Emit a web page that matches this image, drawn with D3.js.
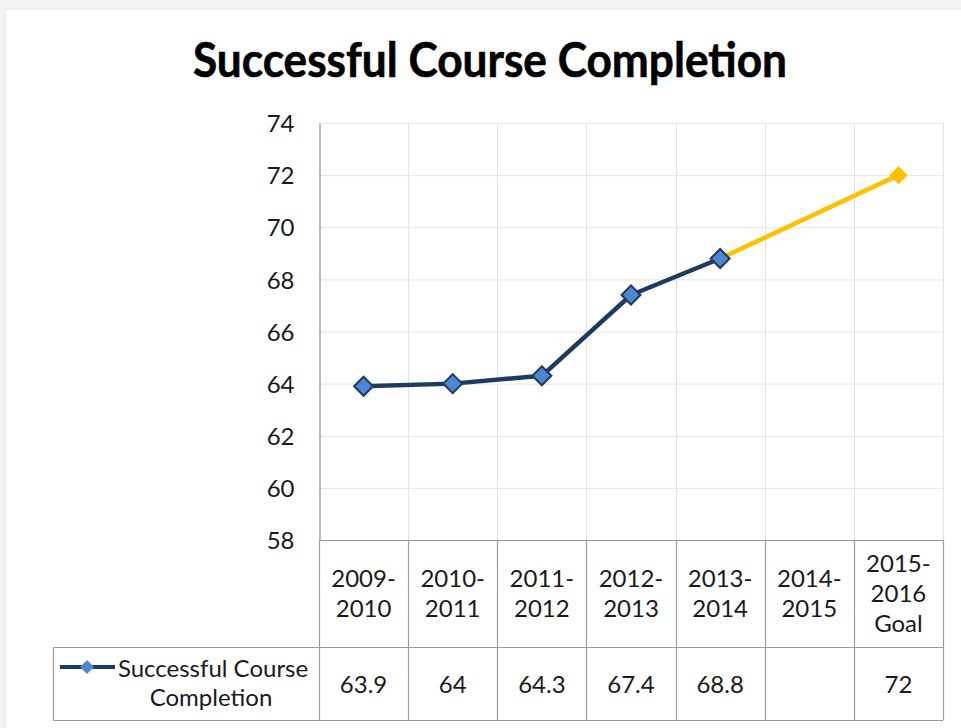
<!DOCTYPE html>
<html>
<head>
<meta charset="utf-8">
<script src="https://cdn.jsdelivr.net/npm/d3@7"></script>
<style>
  html, body { margin: 0; padding: 0; background: #f3f3f3; }
  svg { display: block; }
  text { font-family: Lato, "Open Sans", sans-serif; fill: #1a1a1a; }
</style>
</head>
<body>
<svg id="chart" width="961" height="728"></svg>
<script>
// ---- data ----
const categories = ["2009-2010", "2010-2011", "2011-2012", "2012-2013", "2013-2014", "2014-2015", "2015-2016 Goal"];
const categoryLines = [["2009-", "2010"], ["2010-", "2011"], ["2011-", "2012"], ["2012-", "2013"], ["2013-", "2014"], ["2014-", "2015"], ["2015-", "2016", "Goal"]];
const values = [63.9, 64, 64.3, 67.4, 68.8, null, 72];
const valueLabels = ["63.9", "64", "64.3", "67.4", "68.8", "", "72"];
const goalCategory = "2015-2016 Goal";
const yTicks = [58, 60, 62, 64, 66, 68, 70, 72, 74];
const seriesName = ["Successful Course", "Completion"];
const title = "Successful Course Completion";

// ---- layout ----
const svg = d3.select("#chart");
const W = 961, H = 728;
const plotLeft = 319, plotRight = 943, plotTop = 123, plotBottom = 540;
const headerBottom = 647, tableBottom = 720, legendLeft = 53;

const navy = "#1f3a60", blue = "#4f86d0", gold = "#ffc000";
const gridCol = "#e4e4e4", tableCol = "#9c9c9c";

// square diamond symbol type (half-diagonal r from size = 2 r^2)
const squareDiamond = {
  draw(ctx, size) {
    const r = Math.sqrt(size / 2);
    ctx.moveTo(0, -r); ctx.lineTo(r, 0); ctx.lineTo(0, r); ctx.lineTo(-r, 0); ctx.closePath();
  }
};

// chart background
svg.append("rect").attr("x", 5).attr("y", 9).attr("width", W).attr("height", H)
  .attr("fill", "#ffffff").attr("stroke", "#e2e2e2").attr("stroke-width", 1);

const x = d3.scaleBand().domain(categories).range([plotLeft, plotRight]).padding(0);
const y = d3.scaleLinear().domain([58, 74]).range([plotBottom, plotTop]);

// title
svg.append("text").attr("x", 490).attr("y", 77)
  .attr("text-anchor", "middle").attr("font-weight", 700).attr("font-size", 47)
  .attr("textLength", 594).attr("lengthAdjust", "spacingAndGlyphs")
  .style("fill", "#000").style("stroke", "#000").style("stroke-width", 0.6).text(title);

// horizontal gridlines
svg.append("g").selectAll("line").data(yTicks).join("line")
  .attr("x1", plotLeft).attr("x2", plotRight)
  .attr("y1", d => y(d) + 0.5).attr("y2", d => y(d) + 0.5)
  .attr("stroke", gridCol).attr("stroke-width", 1);

// vertical gridlines at category boundaries (plot area)
const boundaries = categories.map(c => x(c)).concat([plotRight]);
svg.append("g").selectAll("line").data(boundaries.slice(1)).join("line")
  .attr("x1", d => Math.round(d) + 0.5).attr("x2", d => Math.round(d) + 0.5)
  .attr("y1", plotTop).attr("y2", plotBottom)
  .attr("stroke", gridCol).attr("stroke-width", 1);

// y axis
const yAxis = d3.axisLeft(y).tickValues(yTicks).tickSize(0).tickSizeOuter(0).tickPadding(25);
const gy = svg.append("g").attr("transform", `translate(${plotLeft + 0.5},0)`).call(yAxis);
gy.select(".domain").attr("stroke", "#8a8a8a").attr("stroke-width", 1.2);
gy.selectAll(".tick text").attr("font-size", 24).attr("font-family", "Lato, sans-serif")
  .style("fill", "#1a1a1a").attr("dy", "0.36em");

// ---- data table ----
const tbl = svg.append("g").attr("stroke", tableCol).attr("stroke-width", 1.2).attr("fill", "none");
tbl.append("line").attr("x1", plotLeft).attr("x2", plotRight).attr("y1", plotBottom + 0.5).attr("y2", plotBottom + 0.5);
tbl.append("line").attr("x1", legendLeft).attr("x2", plotRight).attr("y1", headerBottom + 0.5).attr("y2", headerBottom + 0.5);
tbl.append("line").attr("x1", legendLeft).attr("x2", plotRight).attr("y1", tableBottom + 0.5).attr("y2", tableBottom + 0.5);
tbl.selectAll("line.v").data(boundaries).join("line").attr("class", "v")
  .attr("x1", d => Math.round(d) + 0.5).attr("x2", d => Math.round(d) + 0.5)
  .attr("y1", plotBottom).attr("y2", tableBottom);
tbl.append("line").attr("x1", legendLeft + 0.5).attr("x2", legendLeft + 0.5).attr("y1", headerBottom).attr("y2", tableBottom);

// category header text
const headerMid = (plotBottom + headerBottom) / 2;
const lh = 30;
const hdr = svg.append("g").selectAll("text").data(categories).join("text")
  .attr("text-anchor", "middle").attr("font-size", 24)
  .attr("x", d => x(d) + x.bandwidth() / 2);
hdr.each(function (d, i) {
  const lines = categoryLines[i];
  const n = lines.length;
  const firstBase = headerMid + 8.5 - (n - 1) * lh / 2;
  d3.select(this).selectAll("tspan").data(lines).join("tspan")
    .attr("x", x(d) + x.bandwidth() / 2)
    .attr("y", (l, j) => firstBase + j * lh)
    .text(l => l);
});

// values row
const rowMid = (headerBottom + tableBottom) / 2;
svg.append("g").selectAll("text").data(categories).join("text")
  .attr("text-anchor", "middle").attr("font-size", 24)
  .attr("x", d => x(d) + x.bandwidth() / 2)
  .attr("y", rowMid + 9.5)
  .text((d, i) => valueLabels[i]);

// legend cell
const legY = 667;
svg.append("line").attr("x1", 60).attr("x2", 115).attr("y1", legY).attr("y2", legY)
  .attr("stroke", navy).attr("stroke-width", 4);
svg.append("path").attr("d", d3.symbol(squareDiamond, 98)())
  .attr("transform", `translate(87,${legY})`)
  .attr("fill", blue).attr("stroke", "none");
svg.append("g").selectAll("text").data(seriesName).join("text")
  .attr("text-anchor", "middle").attr("font-size", 24)
  .attr("x", (d, i) => i === 0 ? 213 : 211)
  .attr("y", (d, i) => 677 + i * 28.5)
  .text(d => d);

// ---- series ----
const cx = c => x(c) + x.bandwidth() / 2;
const pts = categories.map((c, i) => ({ c, v: values[i] }));
const actual = pts.filter(p => p.v !== null && p.c !== goalCategory);
const goal = pts.find(p => p.c === goalCategory);
const lastActual = actual[actual.length - 1];

const line = d3.line().x(p => cx(p.c)).y(p => y(p.v));

// goal segment
svg.append("path").datum([lastActual, goal]).attr("d", line)
  .attr("fill", "none").attr("stroke", gold).attr("stroke-width", 4.5);

// actual line
svg.append("path").datum(actual).attr("d", line)
  .attr("fill", "none").attr("stroke", navy).attr("stroke-width", 4.5)
  .attr("stroke-linejoin", "round");

// markers
svg.append("g").selectAll("path").data(actual).join("path")
  .attr("d", d3.symbol(squareDiamond, 180)())
  .attr("transform", p => `translate(${cx(p.c)},${y(p.v)})`)
  .attr("fill", blue).attr("stroke", navy).attr("stroke-width", 2)
  .attr("stroke-linejoin", "miter");

svg.append("path").attr("d", d3.symbol(squareDiamond, 170)())
  .attr("transform", `translate(${cx(goal.c)},${y(goal.v)})`)
  .attr("fill", gold).attr("stroke", "none");
</script>
</body>
</html>
